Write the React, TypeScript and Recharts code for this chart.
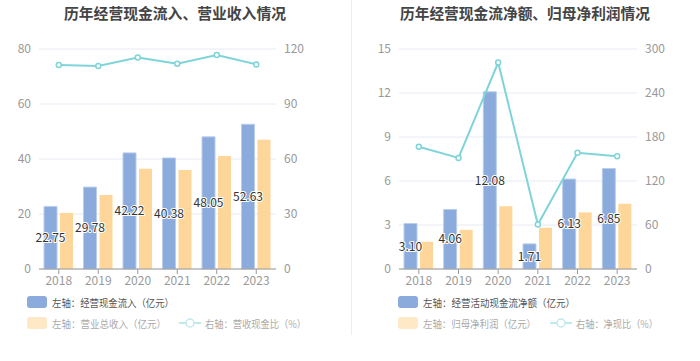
import React from 'react';
import { ComposedChart, Bar, Line, XAxis, YAxis, CartesianGrid, LabelList } from 'recharts';

const years = ['2018', '2019', '2020', '2021', '2022', '2023'];

// Left chart
const cashInflow = [22.75, 29.78, 42.22, 40.38, 48.05, 52.63];
const revenue = [20.4, 26.9, 36.5, 36.0, 41.1, 47.0];
const cashRevenueRatio = [111.3, 110.7, 115.3, 112.0, 116.7, 111.6];
const leftTicksL = [0, 20, 40, 60, 80];
const leftTicksR = [0, 30, 60, 90, 120];

// Right chart
const netCashFlow = [3.10, 4.06, 12.08, 1.71, 6.13, 6.85];
const netProfit = [1.86, 2.67, 4.28, 2.81, 3.86, 4.45];
const netCashRatio = [166.6, 151.5, 281.6, 60.8, 158.4, 153.6];
const rightTicksL = [0, 3, 6, 9, 12, 15];
const rightTicksR = [0, 60, 120, 180, 240, 300];

const BLUE = '#8aabdb';
const ORANGE = '#ffd699';
const CYAN = '#7fd4d8';
const FONT = '"Noto Sans CJK SC", "Noto Sans", sans-serif';

const leftData = years.map((y, i) => ({ year: y, a: cashInflow[i], b: revenue[i], r: cashRevenueRatio[i] }));
const rightData = years.map((y, i) => ({ year: y, a: netCashFlow[i], b: netProfit[i], r: netCashRatio[i] }));

const tickStyle = { fill: '#999', fontSize: 12, fontFamily: FONT };

type FitTextProps = { x: number; y: number; text: string; width: number; color: string; size?: number };

function FitText({ x, y, text, width, color, size = 10.2 }: FitTextProps) {
  return (
    <svg width={width + 6} height={18} style={{ position: 'absolute', left: x, top: y - 9, overflow: 'visible' }}>
      <text
        x={0}
        y={9}
        dominantBaseline="central"
        fontSize={size}
        fontFamily={FONT}
        fill={color}
        textLength={width}
        lengthAdjust="spacingAndGlyphs"
      >
        {text}
      </text>
    </svg>
  );
}

type PanelProps = {
  data: any[];
  left: number;
  title: string;
  titleWidth: number;
  lTicks: number[];
  rTicks: number[];
  marginLeft: number;
  marginRight: number;
  legend1: string;
  legend2: string;
  legend3: string;
  w1: number;
  w2: number;
  w3: number;
  legendX: number;
  lineLegendX: number;
};

function Panel(p: PanelProps) {
  return (
    <div style={{ position: 'absolute', left: p.left, top: 0, width: 350, height: 361 }}>
      <div style={{ position: 'absolute', left: 0, top: 0 }}>
        <ComposedChart
          width={350}
          height={300}
          data={p.data}
          margin={{ top: 49, right: p.marginRight, bottom: 6, left: p.marginLeft }}
          barSize={13}
          barGap={3}
        >
          <CartesianGrid vertical={false} stroke="#e6eaf3" yAxisId="l" />
          <XAxis
            dataKey="year"
            height={25}
            tick={tickStyle}
            axisLine={{ stroke: '#999' }}
            tickLine={{ stroke: '#999' }}
            tickSize={5}
          />
          <YAxis
            yAxisId="l"
            orientation="left"
            width={39}
            domain={[p.lTicks[0], p.lTicks[p.lTicks.length - 1]]}
            ticks={p.lTicks}
            axisLine={false}
            tickLine={false}
            tick={tickStyle}
          />
          <YAxis
            yAxisId="r"
            orientation="right"
            width={44}
            domain={[p.rTicks[0], p.rTicks[p.rTicks.length - 1]]}
            ticks={p.rTicks}
            axisLine={false}
            tickLine={false}
            tick={tickStyle}
          />
          <Bar yAxisId="l" dataKey="a" fill={BLUE} stroke="#b9cdec" strokeWidth={1} isAnimationActive={false}>
            <LabelList
              dataKey="a"
              position="center"
              formatter={(v: any) => Number(v).toFixed(2)}
              style={{
                fill: '#333',
                fontSize: 12,
                fontFamily: FONT,
                stroke: '#fff',
                strokeWidth: 2,
                paintOrder: 'stroke',
              }}
            />
          </Bar>
          <Bar yAxisId="l" dataKey="b" fill={ORANGE} isAnimationActive={false} />
          <Line
            yAxisId="r"
            dataKey="r"
            stroke={CYAN}
            strokeWidth={2}
            dot={{ r: 2.5, fill: '#fff', stroke: CYAN, strokeWidth: 1.5 }}
            isAnimationActive={false}
          />
        </ComposedChart>
      </div>
      <svg width={350} height={24} style={{ position: 'absolute', left: 0, top: 0 }}>
        <text
          x={175 - p.titleWidth / 2}
          y={12}
          dominantBaseline="central"
          fontSize={15}
          fontWeight="bold"
          fontFamily={FONT}
          fill="#444"
          textLength={p.titleWidth}
          lengthAdjust="spacingAndGlyphs"
        >
          {p.title}
        </text>
      </svg>
      <div style={{ position: 'absolute', left: p.legendX, top: 296 }}>
        <div style={{ position: 'absolute', left: 0, top: 0, width: 20, height: 12, borderRadius: 3, background: BLUE }} />
        <FitText x={25} y={6} text={p.legend1} width={p.w1} color="#555" />
        <div style={{ position: 'absolute', left: 0, top: 21, width: 20, height: 12, borderRadius: 3, background: '#ffe8c6' }} />
        <FitText x={25} y={27} text={p.legend2} width={p.w2} color="#aaa" />
      </div>
      <div style={{ position: 'absolute', left: p.lineLegendX, top: 317 }}>
        <svg width={22} height={12} style={{ position: 'absolute', left: 0, top: 0 }}>
          <line x1={0} y1={6} x2={22} y2={6} stroke="#bfe9eb" strokeWidth={2} />
          <circle cx={11} cy={6} r={4} fill="#fff" stroke="#bfe9eb" strokeWidth={1.5} />
        </svg>
        <FitText x={26} y={6} text={p.legend3} width={p.w3} color="#aaa" />
      </div>
    </div>
  );
}

export default function App() {
  return (
    <div style={{ position: 'absolute', left: 0, top: 0, width: 700, height: 361, background: '#fff', overflow: 'hidden' }}>
      <Panel
        data={leftData}
        left={0}
        title="历年经营现金流入、营业收入情况"
        titleWidth={222}
        lTicks={leftTicksL}
        rTicks={leftTicksR}
        marginLeft={0}
        marginRight={30}
        legend1="左轴：经营现金流入（亿元）"
        legend2="左轴：营业总收入（亿元）"
        legend3="右轴：营收现金比（%）"
        w1={122}
        w2={114}
        w3={101}
        legendX={27}
        lineLegendX={179}
      />
      <div style={{ position: 'absolute', left: 351, top: 0, width: 1, height: 335, background: '#eeeeee' }} />
      <Panel
        data={rightData}
        left={350}
        title="历年经营现金流净额、归母净利润情况"
        titleWidth={250}
        lTicks={rightTicksL}
        rTicks={rightTicksR}
        marginLeft={10}
        marginRight={19}
        legend1="左轴：经营活动现金流净额（亿元）"
        legend2="左轴：归母净利润（亿元）"
        legend3="右轴：净现比（%）"
        w1={152}
        w2={113}
        w3={82}
        legendX={48}
        lineLegendX={200}
      />
    </div>
  );
}
